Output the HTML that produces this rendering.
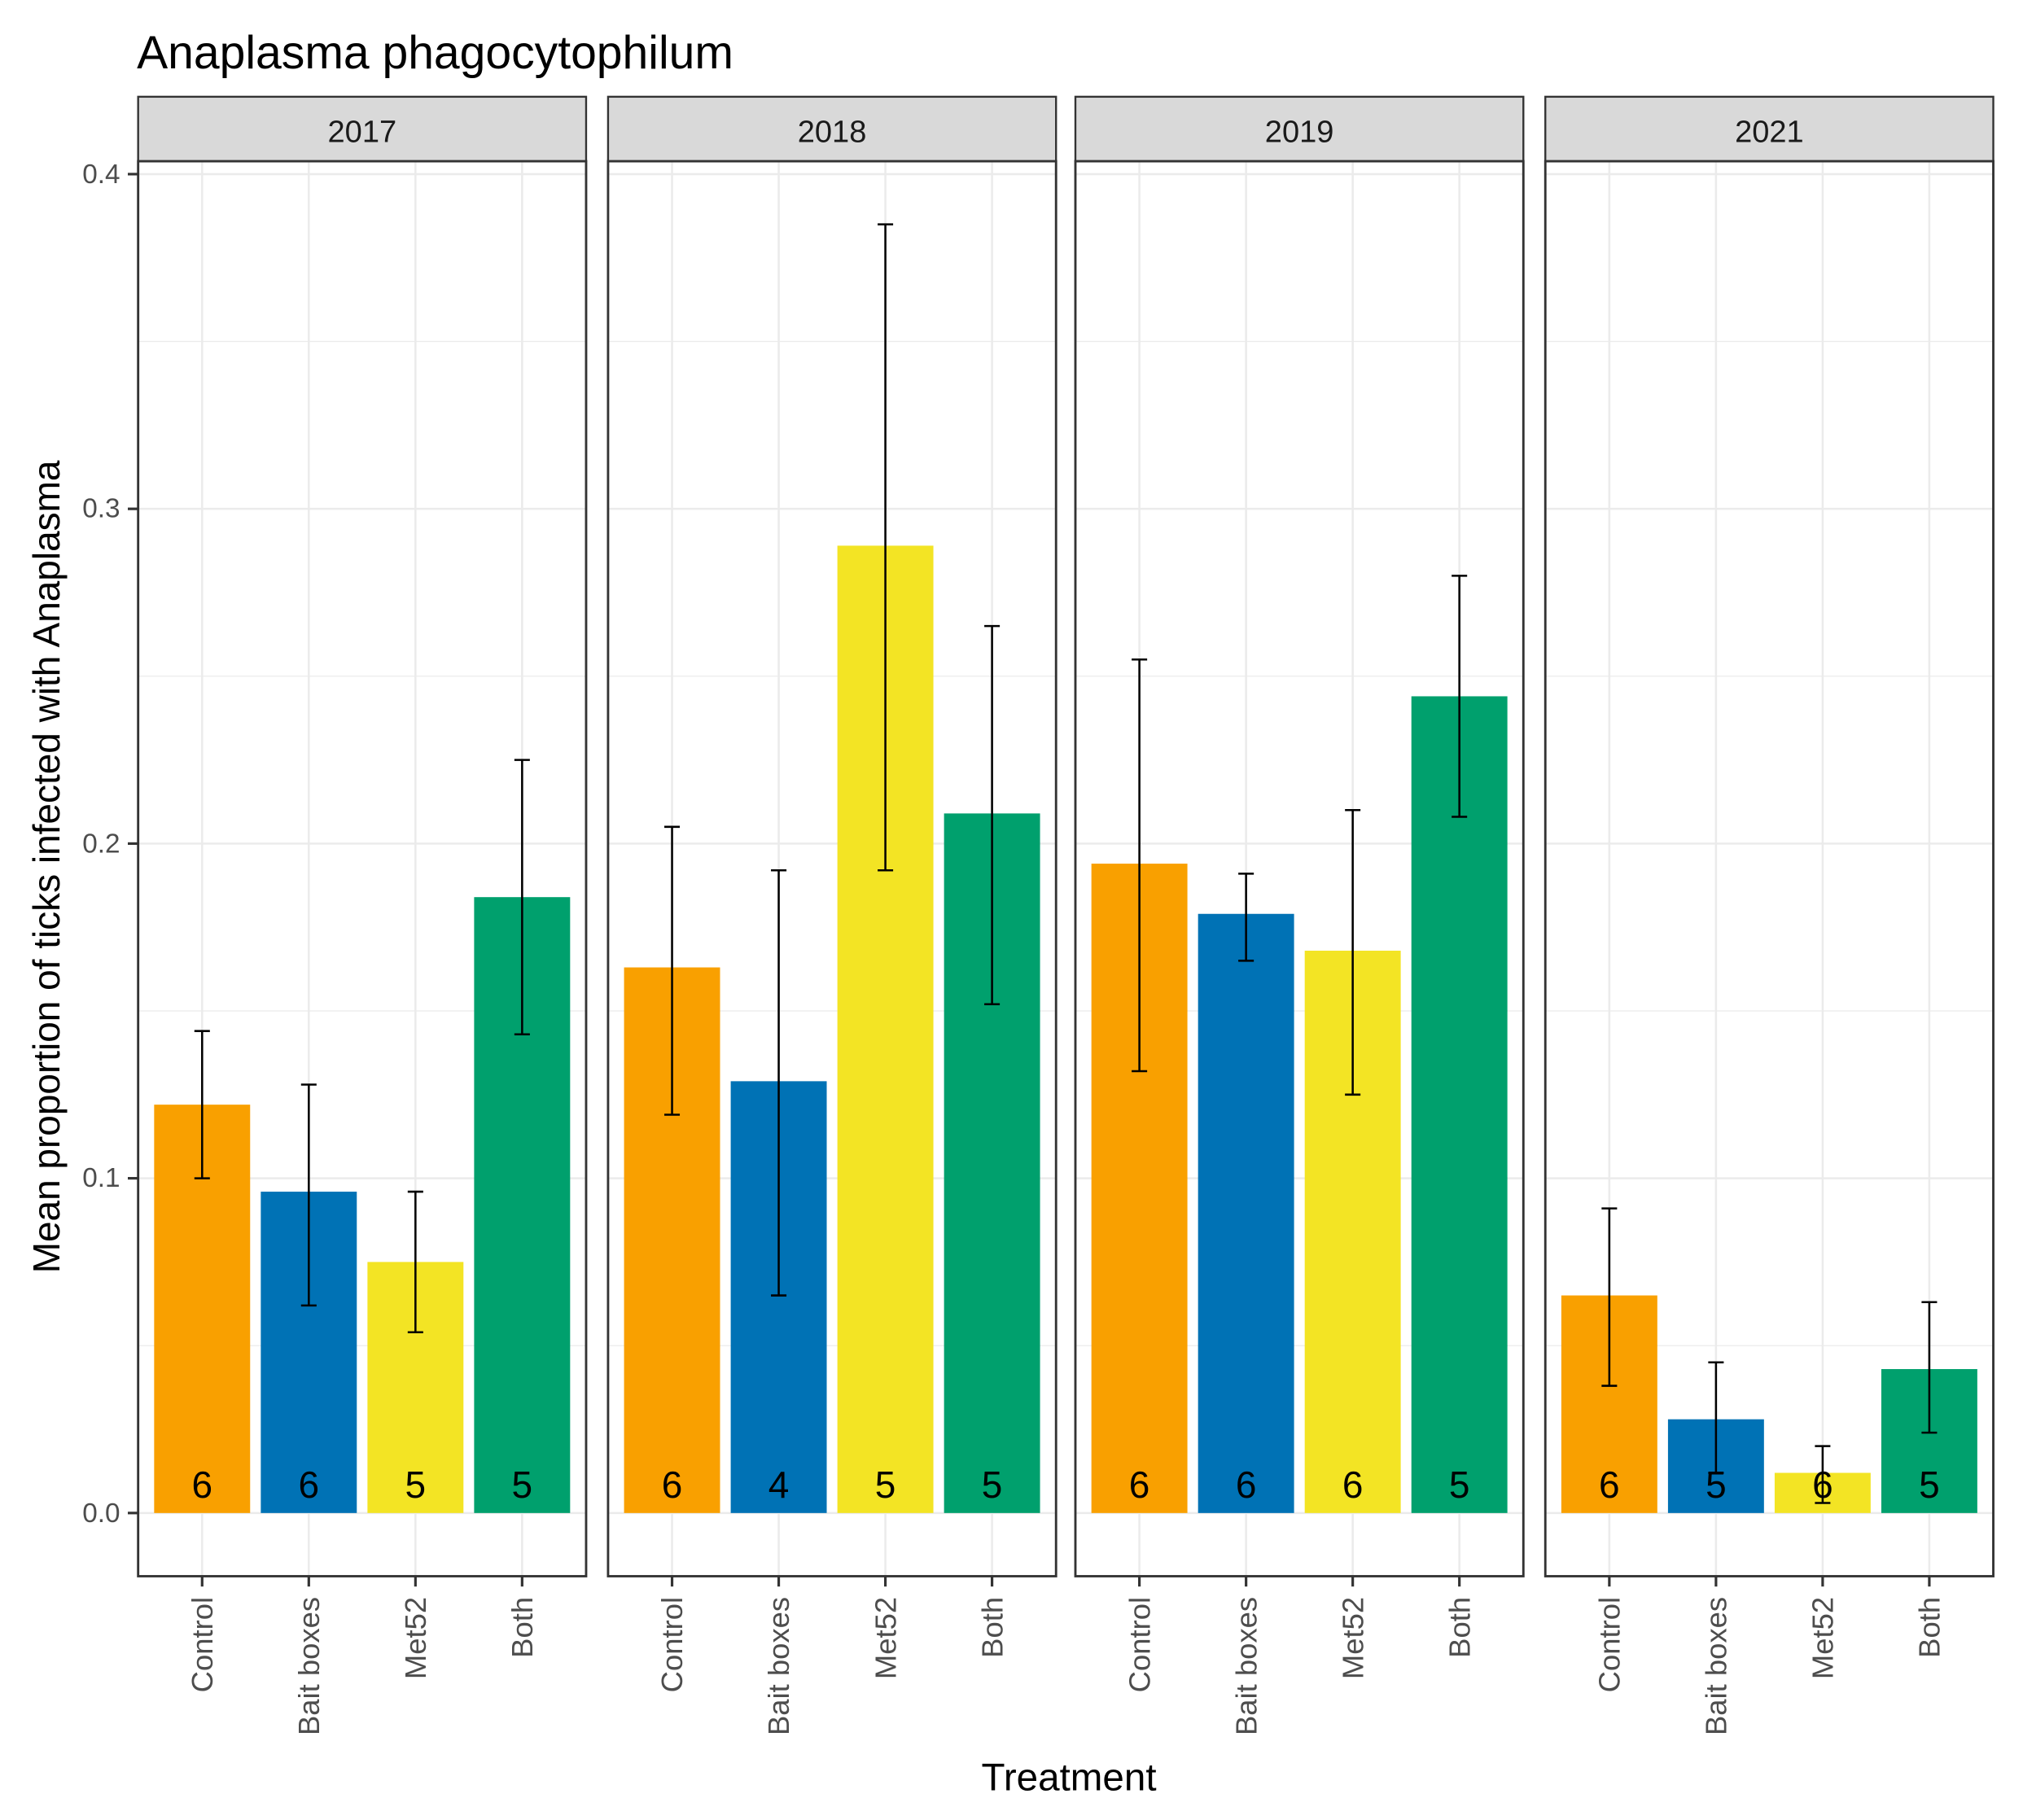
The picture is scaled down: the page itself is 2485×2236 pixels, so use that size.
<!DOCTYPE html>
<html><head><meta charset="utf-8"><style>html,body{margin:0;padding:0;background:#fff}svg{display:block}</style></head>
<body>
<svg width="2485" height="2236" viewBox="0 0 1567 1411" preserveAspectRatio="none" xmlns="http://www.w3.org/2000/svg" font-family="Liberation Sans, sans-serif">
<rect width="1567" height="1411" fill="#fff"/>
<text x="106" y="53" font-size="36" fill="#000">Anaplasma phagocytophilum</text>
<g id="all"></g>
<text transform="translate(46,672) rotate(-90)" font-size="29" text-anchor="middle" fill="#000">Mean proportion of ticks infected with Anaplasma</text>
<text x="828" y="1388" font-size="30" text-anchor="middle" fill="#000">Treatment</text>
<g font-size="21" fill="#4d4d4d" text-anchor="end">
<text x="93" y="142">0.4</text><text x="93" y="401">0.3</text><text x="93" y="661">0.2</text><text x="93" y="920">0.1</text><text x="93" y="1180">0.0</text>
</g>
<g stroke="#333" stroke-width="2">
<line x1="99" x2="107" y1="135" y2="135"/><line x1="99" x2="107" y1="394.5" y2="394.5"/><line x1="99" x2="107" y1="654" y2="654"/><line x1="99" x2="107" y1="913.5" y2="913.5"/><line x1="99" x2="107" y1="1173" y2="1173"/>
</g>
<script>
(function(){
var ns="http://www.w3.org/2000/svg";
var g=document.getElementById("all");
function el(t,a,txt){var e=document.createElementNS(ns,t);for(var k in a)e.setAttribute(k,a[k]);if(txt!==undefined)e.textContent=txt;g.appendChild(e);return e;}
var panels=[107,471,833,1197],pw=347,top=125,bot=1222;
function Y(v){return 1173-v*2595;}
var years=["2017","2018","2019","2021"];
var cols=["#f9a000","#0072b5","#f3e424","#00a06d"];
var cats=["Control","Bait boxes","Met52","Both"];
var data=[
[[0.122,0.100,0.144,6],[0.096,0.062,0.128,6],[0.075,0.054,0.096,5],[0.184,0.143,0.225,5]],
[[0.163,0.119,0.205,6],[0.129,0.065,0.192,4],[0.289,0.192,0.385,5],[0.209,0.152,0.265,5]],
[[0.194,0.132,0.255,6],[0.179,0.165,0.191,6],[0.168,0.125,0.210,6],[0.244,0.208,0.280,5]],
[[0.065,0.038,0.091,6],[0.028,0.012,0.045,5],[0.012,0.003,0.020,6],[0.043,0.024,0.063,5]]];
var u=pw/4.2;
panels.forEach(function(x0,p){
 el("rect",{x:x0,y:75,width:pw,height:50,fill:"#d9d9d9",stroke:"#333","stroke-width":1.5});
 el("text",{x:x0+pw/2,y:110,"font-size":24,"text-anchor":"middle",fill:"#1a1a1a"},years[p]);
 for(var v=0;v<=0.4001;v+=0.05){var y=Y(v);el("line",{x1:x0,x2:x0+pw,y1:y,y2:y,stroke:"#ebebeb","stroke-width":(Math.round(v*20)%2==0)?1.6:0.8});}
 for(var i=0;i<4;i++){var cx=x0+(i+0.6)*u;el("line",{x1:cx,x2:cx,y1:top,y2:bot,stroke:"#ebebeb","stroke-width":1.6});}
 for(var i=0;i<4;i++){
  var cx=x0+(i+0.6)*u,d=data[p][i],bw=0.9*u;
  el("rect",{x:cx-bw/2,y:Y(d[0]),width:bw,height:Y(0)-Y(d[0]),fill:cols[i]});
  el("line",{x1:cx,x2:cx,y1:Y(d[1]),y2:Y(d[2]),stroke:"#000","stroke-width":1.6});
  el("line",{x1:cx-6,x2:cx+6,y1:Y(d[1]),y2:Y(d[1]),stroke:"#000","stroke-width":1.6});
  el("line",{x1:cx-6,x2:cx+6,y1:Y(d[2]),y2:Y(d[2]),stroke:"#000","stroke-width":1.6});
  el("text",{x:cx,y:1161,"font-size":29,"text-anchor":"middle",fill:"#000"},String(d[3]));
  el("line",{x1:cx,x2:cx,y1:bot,y2:bot+8,stroke:"#333","stroke-width":2});
  el("text",{transform:"translate("+(cx+8)+","+(bot+16)+") rotate(-90)","font-size":23,"text-anchor":"end",fill:"#4d4d4d"},cats[i]);
 }
 el("rect",{x:x0,y:top,width:pw,height:bot-top,fill:"none",stroke:"#333","stroke-width":1.8});
});
})();
</script>
</svg>
</body></html>
